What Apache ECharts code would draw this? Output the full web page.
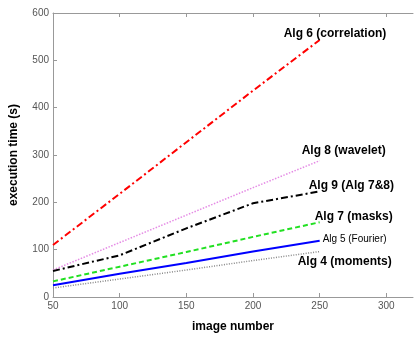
<!DOCTYPE html>
<html>
<head>
<meta charset="utf-8">
<script src="https://cdn.jsdelivr.net/npm/echarts@6/dist/echarts.min.js"></script>
<style>html,body{margin:0;padding:0;background:#fff}#c{width:414px;height:338px}</style>
</head>
<body>
<div id="c"></div>
<script>
const imageNumbers = [50, 100, 150, 200, 250];
const alg6 = [110, 218, 327, 436, 543];
const alg8 = [57, 115, 173, 231, 288];
const alg9 = [55, 88, 145, 198, 223];
const alg7 = [33, 64, 95, 127, 158];
const alg5 = [25, 49, 72, 96, 119];
const alg4 = [19, 38, 57, 77, 96];
const xTicks = [50, 100, 150, 200, 250, 300];
const yTicks = [0, 100, 200, 300, 400, 500, 600];

const pairs = arr => imageNumbers.map((x, i) => [x, arr[i]]);
const FONT = 'Liberation Sans, Arial, sans-serif';

function mk(name, data, color, type, width, off, size, weight) {
  return {
    name, type: 'line', data: pairs(data), showSymbol: false, symbol: 'none',
    lineStyle: { color, type, width }, animation: false, silent: true,
    endLabel: {
      show: true, formatter: name, distance: 0, align: 'left', verticalAlign: 'middle',
      offset: off, fontFamily: FONT, fontSize: size || 12, fontWeight: weight || 'bold', color: '#000'
    }
  };
}

const axisLine = { lineStyle: { color: '#999', width: 1 } };
const chart = echarts.init(document.getElementById('c'), null, { renderer: 'canvas' });
chart.setOption({
  animation: false,
  grid: { left: 50, top: 13, right: 1, bottom: 34 },
  xAxis: [{
    type: 'value', min: 50, max: 320, interval: 50, position: 'bottom',
    name: 'image number', nameLocation: 'middle', nameGap: 24,
    nameTextStyle: { fontFamily: FONT, fontSize: 12, fontWeight: 'bold', color: '#000' },
    axisLine, axisTick: { inside: true, length: 4, lineStyle: { color: '#999' }, customValues: xTicks },
    axisLabel: { fontFamily: FONT, fontSize: 10, color: '#555', margin: 4, customValues: xTicks,
      formatter: v => xTicks.includes(v) ? String(v) : '' },
    splitLine: { show: false }
  }, {
    type: 'value', min: 50, max: 320, interval: 50, position: 'top',
    axisLine, axisTick: { inside: true, length: 4, lineStyle: { color: '#999' }, customValues: xTicks },
    axisLabel: { show: false }, splitLine: { show: false }
  }],
  yAxis: [{
    type: 'value', min: 0, max: 600, interval: 100,
    name: 'execution time (s)', nameLocation: 'middle', nameGap: 33,
    nameTextStyle: { fontFamily: FONT, fontSize: 12, fontWeight: 'bold', color: '#000' },
    axisLine: { show: true, lineStyle: { color: '#999', width: 1 } },
    axisTick: { show: true, inside: true, length: 4, lineStyle: { color: '#999' } },
    axisLabel: { fontFamily: FONT, fontSize: 10, color: '#555', margin: 4,
      formatter: v => yTicks.includes(v) ? String(v) : '' },
    splitLine: { show: false }
  }],
  series: [
    mk('Alg 6 (correlation)', alg6, '#ff0000', [7, 3, 2, 3], 2, [-36, -6]),
    mk('Alg 8 (wavelet)', alg8, '#e58be5', [1.5, 1.5], 1.5, [-18, -10]),
    mk('Alg 9 (Alg 7&8)', alg9, '#000000', [7, 3, 2, 3], 2, [-11, -6]),
    mk('Alg 7 (masks)', alg7, '#22e022', [5, 3], 2, [-5, -6]),
    mk('Alg 5 (Fourier)', alg5, '#0000ff', 'solid', 2, [3, -1], 10, 'normal'),
    mk('Alg 4 (moments)', alg4, '#888888', [1, 1.5], 1.5, [-22, 10])
  ]
});
</script>
</body>
</html>
